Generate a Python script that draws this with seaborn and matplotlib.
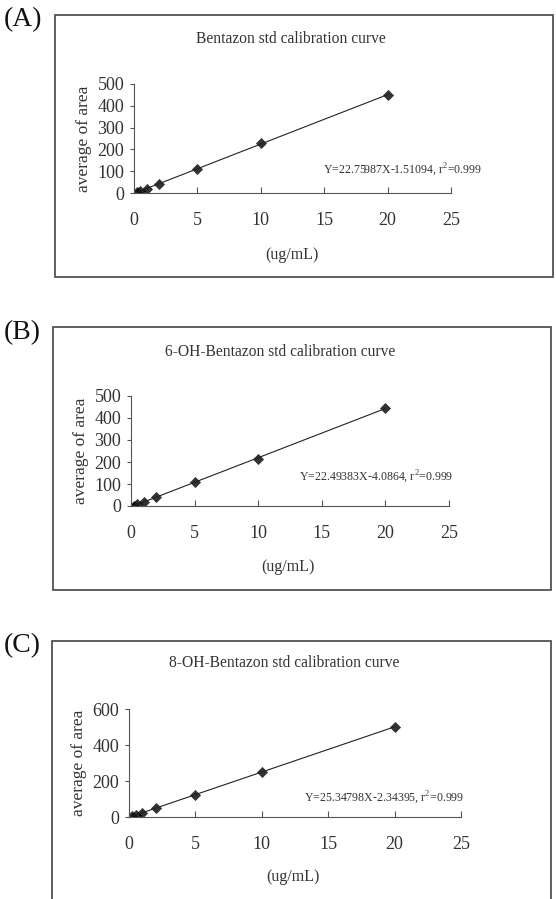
import matplotlib
matplotlib.use("Agg")
import matplotlib.pyplot as plt
from matplotlib.patches import Rectangle
import seaborn as sns
import pandas as pd

# concentrations (ug/mL)
conc = [0.2, 0.5, 1, 2, 5, 10, 20]

# average area for each compound
area_a = [3, 9, 20, 43, 110, 228, 450]
area_b = [2, 7, 19, 40, 110, 213, 446]
area_c = [3, 11, 24, 49, 124, 252, 500]

titles = ["Bentazon std calibration curve",
          "6-OH-Bentazon std calibration curve",
          "8-OH-Bentazon std calibration curve"]
equations = ["Y=22.75987X-1.51094, r$^2$=0.999",
             "Y=22.49383X-4.0864, r$^2$=0.999",
             "Y=25.34798X-2.34395, r$^2$=0.999"]
panel_labels = ["(A)", "(B)", "(C)"]
y_ticks = [[0, 100, 200, 300, 400, 500],
           [0, 100, 200, 300, 400, 500],
           [0, 200, 400, 600]]
x_ticks = [0, 5, 10, 15, 20, 25]

sns.set_style("ticks")
plt.rcParams['font.family'] = ['Liberation Serif', 'DejaVu Serif']
plt.rcParams['mathtext.fontset'] = 'custom'
plt.rcParams['mathtext.rm'] = 'Liberation Serif'

W, H = 556, 899
fig = plt.figure(figsize=(W / 100, H / 100), dpi=100)
txt = '#333333'

def fx(x):
    return x / W

def fy(y):
    return 1 - y / H

# layout in pixels: box (x0, y0, x1, y1), axes (left, top, right, bottom)
layouts = [
    dict(box=(55, 15, 553, 277), ax=(134, 84, 451, 193), lab=20,
         title=(291, 39), xlab=(292, 255), eq=(482, 170)),
    dict(box=(53, 327, 551, 590), ax=(131, 396, 449, 506), lab=333,
         title=(280, 352), xlab=(288, 567), eq=(453, 477)),
    dict(box=(52, 641, 551, 905), ax=(129, 709, 461, 817), lab=646,
         title=(284, 663), xlab=(293, 877), eq=(464, 798)),
]
areas = [area_a, area_b, area_c]

for i, lay in enumerate(layouts):
    bx0, by0, bx1, by1 = lay['box']
    fig.add_artist(Rectangle((fx(bx0), fy(by1)), fx(bx1 - bx0), (by1 - by0) / H,
                             transform=fig.transFigure, fill=False,
                             edgecolor='#444444', lw=1.2))
    fig.text(fx(4), fy(lay['lab']), panel_labels[i], fontsize=20, va='center',
             ha='left', color='#111111')

    l, t, r, b = lay['ax']
    ax = fig.add_axes([fx(l), fy(b), (r - l) / W, (b - t) / H])
    df = pd.DataFrame({'conc': conc, 'area': areas[i]})
    sns.regplot(data=df, x='conc', y='area', ax=ax, ci=None, color='black',
                marker='D', scatter_kws=dict(s=32, edgecolor='black', linewidths=0),
                line_kws=dict(lw=0.8, color='#222222'))
    ax.set_xlim(0, 25)
    ax.set_ylim(0, y_ticks[i][-1])
    ax.set_xticks(x_ticks)
    ax.set_yticks(y_ticks[i])
    ax.set_xlabel('')
    ax.set_ylabel('average of area', fontsize=12.5, color=txt, labelpad=4)
    sns.despine(ax=ax)
    for s in ['left', 'bottom']:
        ax.spines[s].set_color('#555555')
        ax.spines[s].set_linewidth(0.8)
    ax.tick_params(axis='x', direction='in', length=4, pad=14, labelsize=13,
                   colors='#555555', labelcolor=txt)
    ax.tick_params(axis='y', direction='out', length=3, pad=4, labelsize=13,
                   colors='#555555', labelcolor=txt)
    ax.patch.set_alpha(0)

    tx, ty = lay['title']
    fig.text(fx(tx), fy(ty), titles[i], fontsize=11.2,
             ha='center', va='center', color=txt)
    xx, xy = lay['xlab']
    fig.text(fx(xx), fy(xy), '(ug/mL)', fontsize=11.5,
             ha='center', va='center', color=txt)
    ex, ey = lay['eq']
    fig.text(fx(ex), fy(ey), equations[i], fontsize=8.6, ha='right',
             va='center', color=txt)

fig.savefig('out.png', dpi=100)
